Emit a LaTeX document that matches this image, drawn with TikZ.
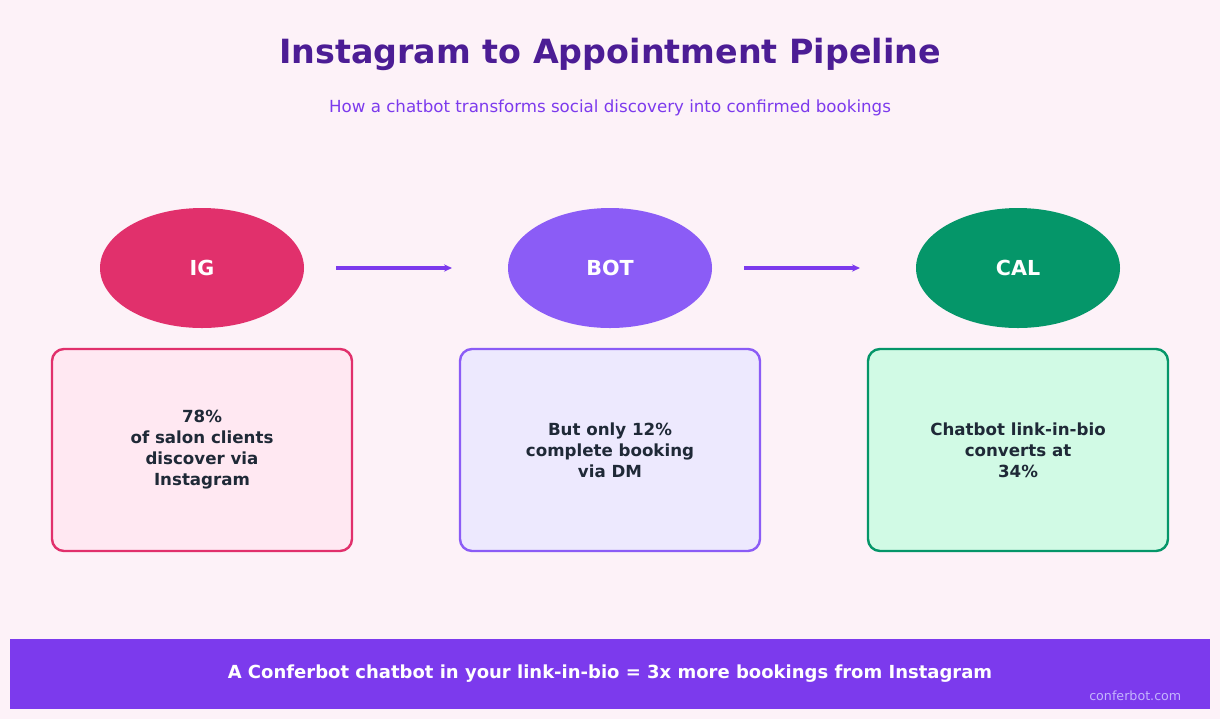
\documentclass[tikz,border=0pt]{standalone}
\usepackage{fontspec}
\setmainfont{DejaVu Sans}
\usetikzlibrary{arrows.meta,shapes.geometric}
\definecolor{bg}{HTML}{FDF2F8}
\definecolor{pur}{HTML}{7C3AED}
\definecolor{titc}{HTML}{4C1D95}
\definecolor{igc}{HTML}{E1306C}
\definecolor{botc}{HTML}{8B5CF6}
\definecolor{calc}{HTML}{059669}
\definecolor{igf}{HTML}{FFE8F2}
\definecolor{botf}{HTML}{EDE9FE}
\definecolor{calf}{HTML}{D1FAE5}
\definecolor{txt}{HTML}{1F2937}
\definecolor{foot}{HTML}{C4B5FD}
\begin{document}
\begin{tikzpicture}[x=0.75pt,y=-0.75pt,
  circ/.style={ellipse,minimum width=153pt,minimum height=90pt,inner sep=0pt,text=white,font=\fontsize{15.5}{18}\selectfont\bfseries},
  box/.style={draw,rounded corners=9pt,line width=1.8pt,minimum width=225pt,minimum height=151.5pt,align=center,text=txt,font=\fontsize{12.5}{15.75}\selectfont\bfseries},
  arr/.style={draw=pur,line width=2.3pt,-{Stealth[length=6pt,width=5.5pt]}}]
\fill[bg] (0,0) rectangle (1220,719);
\useasboundingbox (0,0) rectangle (1220,719);
\node[text=titc,font=\fontsize{25}{28}\selectfont\bfseries] (title) at (610,54) {Instagram to Appointment Pipeline};
\node[text=pur,font=\fontsize{12.5}{14}\selectfont] (sub) at (610,108) {How a chatbot transforms social discovery into confirmed bookings};
\node[circ,fill=igc] (ig) at (202,268) {IG};
\node[circ,fill=botc] (bot) at (610,268) {BOT};
\node[circ,fill=calc] (cal) at (1018,268) {CAL};
\coordinate (a1) at (336,268); \coordinate (a2) at (452,268);
\coordinate (b1) at (744,268); \coordinate (b2) at (860,268);
\draw[arr] (a1) -- (a2);
\draw[arr] (b1) -- (b2);
\node[box,draw=igc,fill=igf] (bx1) at (202,450) {78\%\\of salon clients\\discover via\\Instagram};
\node[box,draw=botc,fill=botf] (bx2) at (610,450) {But only 12\%\\complete booking\\via DM};
\node[box,draw=calc,fill=calf] (bx3) at (1018,450) {Chatbot link-in-bio\\converts at\\34\%};
\fill[pur] (10,639) rectangle (1210,709);
\node[text=white,font=\fontsize{13.5}{16}\selectfont\bfseries] (ban) at (610,674) {A Conferbot chatbot in your link-in-bio = 3x more bookings from Instagram};
\node[text=foot,font=\fontsize{9.5}{11}\selectfont,anchor=east] (ft) at (1186,696) {conferbot.com};
\end{tikzpicture}
\end{document}
